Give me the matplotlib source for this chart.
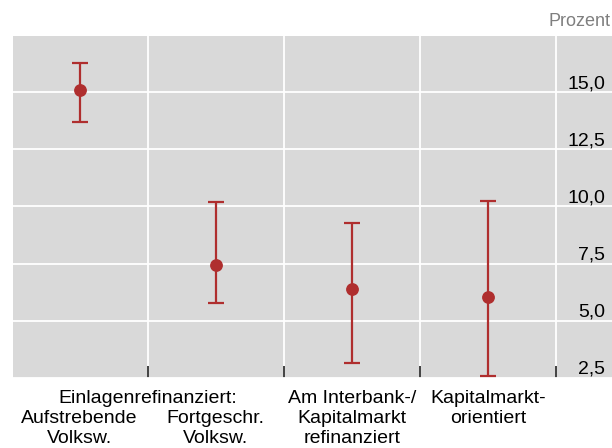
import matplotlib.pyplot as plt

# data
categories = ["Aufstrebende\nVolksw.", "Fortgeschr.\nVolksw.",
              "Am Interbank-/\nKapitalmarkt\nrefinanziert", "Kapitalmarkt-\norientiert"]
label_row = [1, 1, 0, 0]  # first two sit under the group label
group_label = "Einlagenrefinanziert:"
values = [15.1, 7.43, 6.38, 6.05]
upper = [16.25, 10.2, 9.26, 10.23]
lower = [13.67, 5.78, 3.17, 2.6]
yticks = [2.5, 5.0, 7.5, 10.0, 12.5, 15.0]

red = '#AF2E2E'
plt.rcParams['font.family'] = ['Liberation Sans', 'DejaVu Sans']

fig = plt.figure(figsize=(6.12, 4.48), dpi=100)
ax = fig.add_axes([0.0212, 0.1563, 0.9788, 0.7633])
ax.set_facecolor('#D9D9D9')

x = list(range(len(values)))
err_lo = [v - l for v, l in zip(values, lower)]
err_hi = [u - v for v, u in zip(values, upper)]
ax.errorbar(x, values, yerr=[err_lo, err_hi], fmt='o', color=red, ecolor=red,
            markersize=8.2, elinewidth=1.6, capsize=5.8, capthick=1.6, zorder=3,
            clip_on=False)

ax.set_xlim(-0.49, 3.91)
ax.set_ylim(2.55, 17.45)

# grid
ax.set_xticks([0.5, 1.5, 2.5, 3.5], minor=True)
ax.set_xticks(x)
ax.set_xticklabels([])
ax.set_yticks(yticks)
ax.set_yticklabels([])
ax.grid(True, which='minor', axis='x', color='white', lw=1.3)
ax.grid(True, which='major', axis='y', color='white', lw=1.3)
ax.tick_params(axis='x', which='major', length=0)
ax.tick_params(axis='x', which='minor', direction='in', length=9, width=1.3, color='#333333')
ax.tick_params(axis='y', length=0)
for s in ax.spines.values():
    s.set_visible(False)

# y labels inside, right side, above gridlines
for t in yticks:
    ax.annotate(f'{t:.1f}'.replace('.', ','), xy=(1.0, t), xycoords=('axes fraction', 'data'),
                xytext=(-5, 0), textcoords='offset points', ha='right', va='bottom', fontsize=14)

# category labels
step = 14.4
ax.annotate(group_label, xy=(0.5, 0), xycoords=('data', 'axes fraction'),
            xytext=(0, -8.5), textcoords='offset points', ha='center', va='top', fontsize=14)
for xi, lab, row in zip(x, categories, label_row):
    ax.annotate(lab, xy=(xi, 0), xycoords=('data', 'axes fraction'),
                xytext=(0, -8.5 - row * step), textcoords='offset points',
                ha='center', va='top', fontsize=14, linespacing=1.25)

fig.text(0.997, 0.953, 'Prozent', ha='right', va='center', fontsize=13, color='#7F7F7F')

fig.savefig('out.png', dpi=100)
